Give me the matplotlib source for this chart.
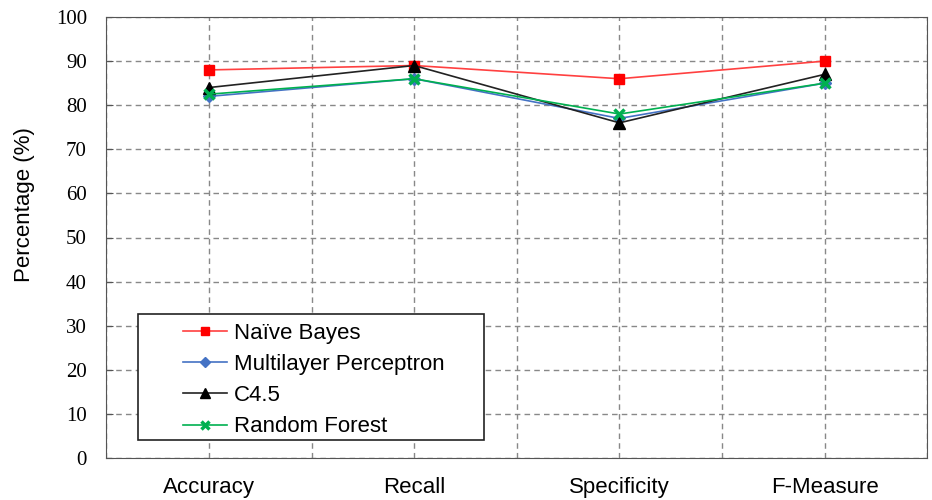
import numpy as np
import matplotlib.pyplot as plt
from matplotlib.patches import Rectangle

categories = ['Accuracy', 'Recall', 'Specificity', 'F-Measure']
naive_bayes = [88, 89, 86, 90]
mlp = [82, 86, 77, 85]
c45 = [84, 89, 76, 87]
random_forest = [82.5, 86, 78, 85]

fig = plt.figure(figsize=(9.32, 5), dpi=100)
ax = fig.add_axes([0.114, 0.084, 0.881, 0.882])

x = np.arange(len(categories)) + 0.5
ax.plot(x, naive_bayes, color='#ff4040', lw=1.2, marker='s', ms=7.5,
        mfc='#ff0000', mec='#ff0000', label='Naïve Bayes')
ax.plot(x, mlp, color='#4472c4', lw=1.2, marker='D', ms=6,
        mfc='#4472c4', mec='#4472c4', label='Multilayer Perceptron')
ax.plot(x, c45, color='#222222', lw=1.2, marker='^', ms=8,
        mfc='black', mec='black', label='C4.5')
ax.plot(x, random_forest, color='#00b050', lw=1.2, marker='x', ms=7,
        mew=2.5, label='Random Forest')

ax.set_xlim(0, 4)
ax.set_ylim(0, 100)
ax.set_yticks(np.arange(0, 101, 10))
ax.set_xticks(x)
ax.set_xticks(np.arange(0, 4.01, 1), minor=True)
ax.set_xticklabels(categories, fontsize=16, family='Liberation Sans')
for lab in ax.get_yticklabels():
    lab.set_family('Liberation Serif')
    lab.set_fontsize(15)
ax.tick_params(axis='x', which='both', length=0, pad=14)
ax.tick_params(axis='y', direction='in', length=5, color='#555555', pad=14)
ax.grid(True, which='both', ls=(0, (4, 3)), color='#888888', lw=1)
ax.set_ylabel('Percentage (%)', fontsize=16, family='Liberation Sans')
ax.yaxis.set_label_coords(-0.087, 0.574)
for s in ax.spines.values():
    s.set_color('#555555')

# legend frame drawn by hand (wide side padding as in the original)
ax.add_patch(Rectangle((0.039, 0.041), 0.421, 0.286, transform=ax.transAxes,
                       facecolor='white', edgecolor='#222222', lw=1.2, zorder=5))
leg = ax.legend(loc='upper left', bbox_to_anchor=(0.093, 0.307), frameon=False,
                prop={'family': 'Liberation Sans', 'size': 16},
                handlelength=2.0, handletextpad=0.3, borderpad=0,
                labelspacing=0.46, borderaxespad=0, markerscale=0.85)
leg.set_zorder(6)

fig.savefig('out.png')
